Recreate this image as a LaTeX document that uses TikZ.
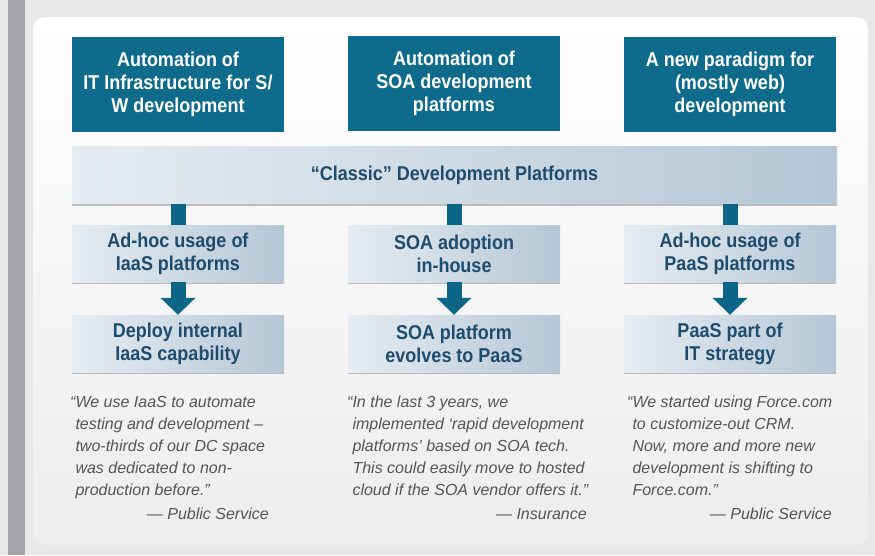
\documentclass[tikz,border=0pt]{standalone}
\usepackage{fontspec}
\setmainfont{Liberation Sans}
\newfontfamily\narrowsans[FakeStretch=0.9]{Liberation Sans}
\usepackage{xcolor}
\usetikzlibrary{positioning, arrows.meta, shadows}
\definecolor{pagegray}{HTML}{E8E8E8}
\definecolor{bargray}{HTML}{A4A4A9}
\definecolor{panelgray}{HTML}{EDEDED}
\definecolor{boxteal}{HTML}{0E6B8C}
\definecolor{arrowteal}{HTML}{0D6687}
\definecolor{stepleft}{HTML}{E6ECF1}
\definecolor{stepright}{HTML}{B5C7D5}
\definecolor{stepblue}{HTML}{1E4C6E}
\definecolor{quotegray}{HTML}{555555}
\tikzset{
x=1pt, y=-1pt, % one unit is one pixel of the slide, y runs down
topbox/.style={fill=boxteal, text=white, minimum width=212pt, minimum height=95pt,
  inner sep=0pt, align=center, font=\narrowsans\bfseries\fontsize{20}{23}\selectfont},
stepbox/.style={left color=stepleft, right color=stepright, text=stepblue,
  minimum width=212pt, minimum height=57pt, inner sep=0pt, align=center,
  font=\narrowsans\bfseries\fontsize{20}{23}\selectfont,
  drop shadow={shadow xshift=0pt, shadow yshift=-2pt, opacity=.35, fill=black!70}},
stem/.style={draw=arrowteal, line width=15pt}, % plain link from the bar
flow/.style={stem, -{Triangle[width=34pt, length=17pt]}}, % big arrow between steps
quote/.style={anchor=north west, inner sep=0pt, align=left, text=quotegray,
  font=\itshape\fontsize{16}{22}\selectfont},
source/.style={anchor=base east, inner sep=0pt, text=quotegray,
  font=\itshape\fontsize{16}{22}\selectfont},
}
\newcommand{\qi}{\hphantom{“}}

\begin{document}
\begin{tikzpicture}
        % slide background
        \fill[pagegray] (0,0) rectangle (875,555);
        \fill[bargray] (8,0) rectangle (25,555);
        \shade[top color=white, bottom color=panelgray, rounded corners=12pt] (33,17) rectangle (868,545);
        \useasboundingbox (0,0) rectangle (875,555);

        \node[topbox] (top1) at (178,84) {Automation of\\IT Infrastructure for S/\\W development};
        \node[topbox] (top2) at (454,83) {Automation of\\SOA development\\platforms};
        \node[topbox] (top3) at (730,84) {A new paradigm for\\(mostly web)\\development};

        \node[stepbox, minimum width=765pt] (classic) at (454.5,175) {“Classic” Development Platforms};

        \node[stepbox] (mid1) at (178,253.5) {Ad-hoc usage of\\IaaS platforms};
        \node[stepbox] (mid2) at (454,253.5) {SOA adoption\\in-house};
        \node[stepbox] (mid3) at (730,253.5) {Ad-hoc usage of\\PaaS platforms};

        \node[stepbox] (bot1) at (178,343.5) {Deploy internal\\IaaS capability};
        \node[stepbox] (bot2) at (454,343.5) {SOA platform\\evolves to PaaS};
        \node[stepbox] (bot3) at (730,343.5) {PaaS part of\\IT strategy};

        \draw[stem] (classic.south -| mid1) -- (mid1.north);
        \draw[stem] (classic.south -| mid2) -- (mid2.north);
        \draw[stem] (classic.south -| mid3) -- (mid3.north);
        \draw (mid1) edge[flow] (bot1)
              (mid2) edge[flow] (bot2)
              (mid3) edge[flow] (bot3);

        \node[quote] (q1) at (70,396) {“We use IaaS to automate\\\qi testing and development –\\\qi two-thirds of our DC space\\\qi was dedicated to non-\\\qi production before.”};
        \node[quote] (q2) at (347,396) {“In the last 3 years, we\\\qi implemented ‘rapid development\\\qi platforms’ based on SOA tech.\\\qi This could easily move to hosted\\\qi cloud if the SOA vendor offers it.”};
        \node[quote] (q3) at (627,396) {“We started using Force.com\\\qi to customize-out CRM.\\\qi Now, more and more new\\\qi development is shifting to\\\qi Force.com.”};

        \node[source] (s1) at (269,519) {— Public Service};
        \node[source] (s2) at (587,519) {— Insurance};
        \node[source] (s3) at (832,519) {— Public Service};
\end{tikzpicture}
\end{document}
